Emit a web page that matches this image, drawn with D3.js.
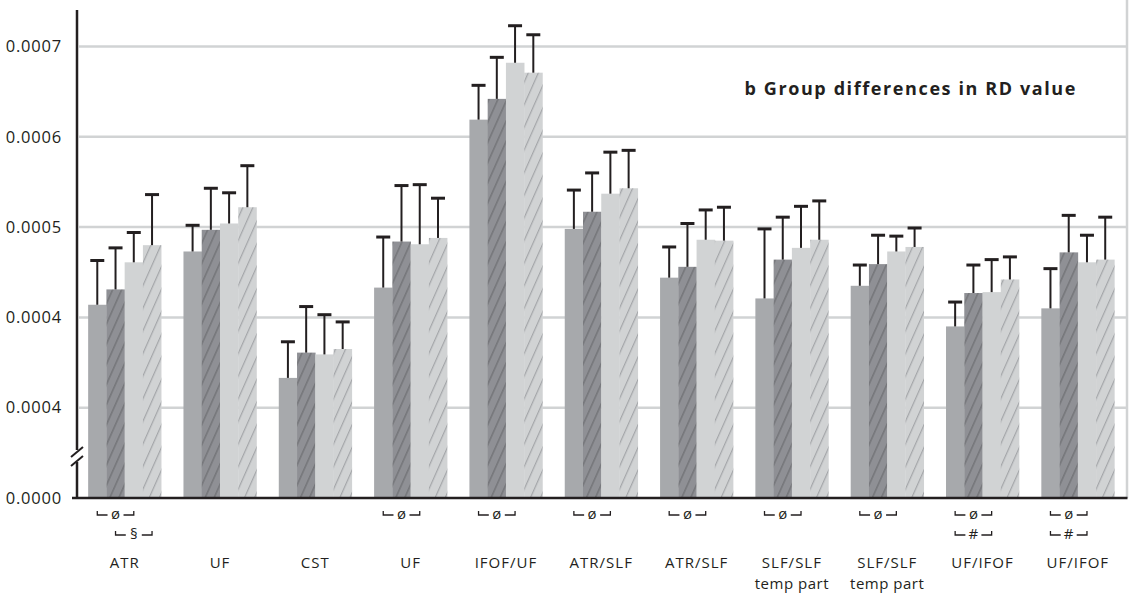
<!DOCTYPE html>
<html>
<head>
<meta charset="utf-8">
<script src="https://cdn.jsdelivr.net/npm/d3@7"></script>
<style>
  body { margin: 0; background: #fff; }
  text { font-family: "Open Sans", sans-serif; fill: #231f20; }
</style>
</head>
<body>
<div id="chart"></div>
<script>
// groups along the x axis
const categories = ["ATR", "UF", "CST", "UF", "IFOF/UF", "ATR/SLF", "ATR/SLF", "SLF/SLF", "SLF/SLF", "UF/IFOF", "UF/IFOF"];
const subLabels  = ["", "", "", "", "", "", "", "temp part", "temp part", "", ""];

// four series per group (means)
const series1 = [0.000414, 0.000473, 0.000333, 0.000433, 0.000619, 0.000498, 0.000444, 0.000421, 0.000435, 0.000390, 0.000410];
const series2 = [0.000431, 0.000497, 0.000361, 0.000484, 0.000642, 0.000517, 0.000456, 0.000464, 0.000459, 0.000427, 0.000472];
const series3 = [0.000461, 0.000504, 0.000359, 0.000481, 0.000682, 0.000537, 0.000486, 0.000477, 0.000473, 0.000428, 0.000461];
const series4 = [0.000480, 0.000522, 0.000365, 0.000488, 0.000671, 0.000543, 0.000485, 0.000486, 0.000478, 0.000442, 0.000464];

// standard deviations (upper error bars)
const sd1 = [0.000049, 0.000029, 0.000040, 0.000056, 0.000038, 0.000043, 0.000034, 0.000077, 0.000023, 0.000027, 0.000044];
const sd2 = [0.000046, 0.000046, 0.000051, 0.000062, 0.000046, 0.000043, 0.000048, 0.000047, 0.000032, 0.000031, 0.000041];
const sd3 = [0.000033, 0.000034, 0.000044, 0.000066, 0.000041, 0.000046, 0.000033, 0.000046, 0.000017, 0.000036, 0.000030];
const sd4 = [0.000056, 0.000046, 0.000030, 0.000044, 0.000042, 0.000042, 0.000037, 0.000043, 0.000021, 0.000025, 0.000047];

// y axis (broken): tick values and the labels printed next to them
const yTicks      = [0.0002, 0.0003, 0.0004, 0.0005, 0.0006, 0.0007];
const yTickLabels = ["0.0000", "0.0004", "0.0004", "0.0005", "0.0006", "0.0007"];

// significance brackets: group, row, first bar, last bar, symbol
const brackets = [
  [0, 0, 0, 2, "ø"], [0, 1, 1, 3, "§"],
  [3, 0, 0, 2, "ø"], [4, 0, 0, 2, "ø"], [5, 0, 0, 2, "ø"], [6, 0, 0, 2, "ø"],
  [7, 0, 0, 2, "ø"], [8, 0, 0, 2, "ø"],
  [9, 0, 0, 2, "ø"], [9, 1, 0, 2, "#"],
  [10, 0, 0, 2, "ø"], [10, 1, 0, 2, "#"]
];

const title = "b Group differences in RD value";

const means = [series1, series2, series3, series4];
const sds = [sd1, sd2, sd3, sd4];
const fills = ["#a7a9ac", "url(#hatchDark)", "#d1d3d4", "url(#hatchLight)"];

const W = 1136, H = 596;
const plot = { left: 77, right: 1125.5, top: 46.5, bottom: 498 };

const svg = d3.select("#chart")
  .append("svg")
    .attr("width", W)
    .attr("height", H);

// hatch patterns
const defs = svg.append("defs");
function hatch(id, base, stroke, gap, sw) {
  const p = defs.append("pattern")
    .attr("id", id)
    .attr("patternUnits", "userSpaceOnUse")
    .attr("width", gap)
    .attr("height", 10)
    .attr("patternTransform", "rotate(24)");
  p.append("rect").attr("width", gap).attr("height", 10).attr("fill", base);
  p.append("rect").attr("x", 0).attr("width", sw).attr("height", 10).attr("fill", stroke);
}
hatch("hatchDark", "#8f9095", "#76777b", 8.2, 1.6);
hatch("hatchLight", "#d1d3d4", "#a4a6a9", 9.2, 1.2);

const x = d3.scaleBand()
  .domain(d3.range(categories.length))
  .range([plot.left, plot.right])
  .paddingInner(0.234)
  .paddingOuter(0.117);

const xSub = d3.scaleBand()
  .domain(d3.range(4))
  .range([0, x.bandwidth()]);

const y = d3.scaleLinear()
  .domain([0.0002, 0.0007])
  .range([plot.bottom, plot.top]);

// gridlines
svg.append("g")
  .selectAll("line")
  .data(yTicks.slice(1))
  .enter().append("line")
    .attr("x1", plot.left + 2)
    .attr("x2", plot.right + 1)
    .attr("y1", d => y(d))
    .attr("y2", d => y(d))
    .attr("stroke", "#d1d3d4")
    .attr("stroke-width", 2.5);

// right frame line
svg.append("line")
  .attr("x1", plot.right + 1.5).attr("x2", plot.right + 1.5)
  .attr("y1", 0).attr("y2", plot.bottom)
  .attr("stroke", "#d1d3d4")
  .attr("stroke-width", 2.5);

// bars
const groups = svg.append("g")
  .selectAll("g")
  .data(categories.map((c, i) => i))
  .enter().append("g")
    .attr("transform", i => `translate(${x(i)},0)`);

const barData = i => means.map((s, k) => ({ k: k, v: s[i], sd: sds[k][i] }));

groups.selectAll("rect")
  .data(barData)
  .enter().append("rect")
    .attr("x", d => xSub(d.k))
    .attr("width", xSub.bandwidth() + 0.3)
    .attr("y", d => y(d.v))
    .attr("height", d => plot.bottom - y(d.v))
    .attr("fill", d => fills[d.k]);

// error bars
groups.selectAll(".err")
  .data(barData)
  .enter().append("line")
    .attr("class", "err")
    .attr("x1", d => xSub(d.k) + xSub.bandwidth() / 2)
    .attr("x2", d => xSub(d.k) + xSub.bandwidth() / 2)
    .attr("y1", d => y(d.v))
    .attr("y2", d => y(d.v + d.sd))
    .attr("stroke", "#231f20")
    .attr("stroke-width", 2);

groups.selectAll(".cap")
  .data(barData)
  .enter().append("line")
    .attr("class", "cap")
    .attr("x1", d => xSub(d.k) + xSub.bandwidth() / 2 - 7)
    .attr("x2", d => xSub(d.k) + xSub.bandwidth() / 2 + 7)
    .attr("y1", d => y(d.v + d.sd))
    .attr("y2", d => y(d.v + d.sd))
    .attr("stroke", "#231f20")
    .attr("stroke-width", 3);

// y axis labels
const yAxis = d3.axisLeft(y)
  .tickValues(yTicks)
  .tickFormat((d, i) => yTickLabels[i])
  .tickSize(0)
  .tickPadding(15);

const ya = svg.append("g")
  .attr("transform", `translate(${plot.left},0)`)
  .call(yAxis);
ya.select(".domain").remove();
ya.selectAll("text")
  .style("font-size", "16.5px")
  .style("letter-spacing", "0.8px")
  .style("font-family", "'Open Sans', sans-serif")
  .attr("fill", "#231f20");

// axis lines
svg.append("line")
  .attr("x1", plot.left).attr("x2", plot.left)
  .attr("y1", 10).attr("y2", plot.bottom + 1)
  .attr("stroke", "#231f20")
  .attr("stroke-width", 2.5);

svg.append("line")
  .attr("x1", 72).attr("x2", plot.right + 2)
  .attr("y1", plot.bottom).attr("y2", plot.bottom)
  .attr("stroke", "#231f20")
  .attr("stroke-width", 2.5);

// axis break
svg.append("rect")
  .attr("x", plot.left - 3).attr("y", 450)
  .attr("width", 6).attr("height", 12)
  .attr("fill", "#fff");
[0, 9].forEach(off => {
  svg.append("line")
    .attr("x1", 71).attr("y1", 457 + off)
    .attr("x2", 83).attr("y2", 447 + off)
    .attr("stroke", "#231f20")
    .attr("stroke-width", 2);
});

// category labels (two lines)
svg.append("g")
  .selectAll("text")
  .data(categories.map((c, i) => i))
  .enter().append("text")
    .attr("text-anchor", "middle")
    .style("font-size", "15px")
    .style("letter-spacing", "1px")
    .attr("x", i => x(i) + x.bandwidth() / 2)
    .attr("y", 568)
    .text(i => categories[i]);

svg.append("g")
  .selectAll("text")
  .data(categories.map((c, i) => i).filter(i => subLabels[i] !== ""))
  .enter().append("text")
    .attr("text-anchor", "middle")
    .style("font-size", "15px")
    .style("letter-spacing", "0.5px")
    .attr("x", i => x(i) + x.bandwidth() / 2)
    .attr("y", 589)
    .text(i => subLabels[i]);

// significance brackets
const rowY = [515, 535];
brackets.forEach(([g, row, a, b, sym]) => {
  const x1 = x(g) + xSub(a) + xSub.bandwidth() / 2;
  const x2 = x(g) + xSub(b) + xSub.bandwidth() / 2;
  const xm = (x1 + x2) / 2;
  const yy = rowY[row];
  const gap = 8;
  svg.append("path")
    .attr("d", `M${x1},${yy - 4}V${yy}H${xm - gap}M${xm + gap},${yy}H${x2}V${yy - 4}`)
    .attr("fill", "none")
    .attr("stroke", "#231f20")
    .attr("stroke-width", 1.3);
  svg.append("text")
    .attr("x", xm)
    .attr("y", yy - 1)
    .attr("dy", "0.35em")
    .attr("text-anchor", "middle")
    .style("font-size", "15px")
    .text(sym);
});

// title
svg.append("text")
  .attr("x", 1077)
  .attr("y", 95)
  .attr("text-anchor", "end")
  .style("font-size", "18px")
  .style("font-weight", "bold")
  .style("letter-spacing", "1.6px")
  .text(title);
</script>
</body>
</html>
